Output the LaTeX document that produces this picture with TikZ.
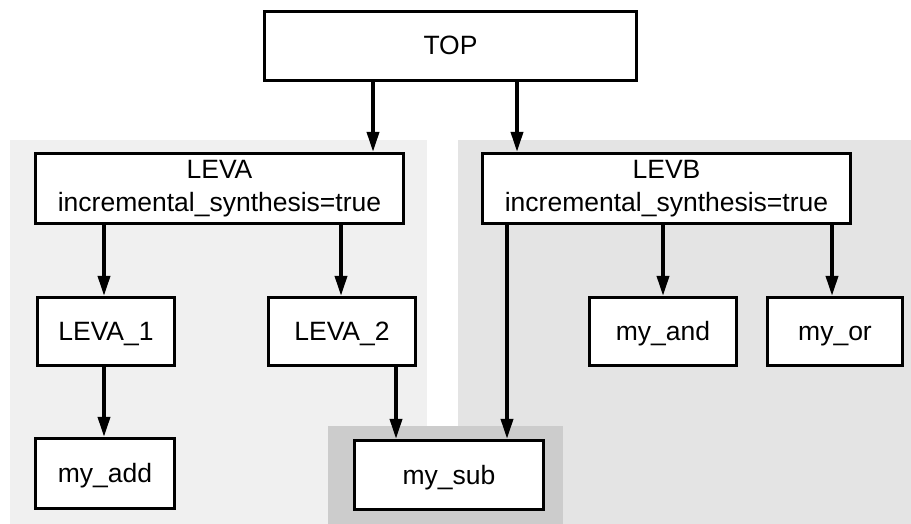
\documentclass[tikz,border=0pt]{standalone}
\usepackage{fontspec}
\setmainfont{Liberation Sans}
\usetikzlibrary{arrows.meta}
\definecolor{grpA}{HTML}{F0F0F0}
\definecolor{grpB}{HTML}{E4E4E4}
\definecolor{grpSub}{HTML}{CCCCCC}
\begin{document}
\begin{tikzpicture}[x=1pt,y=-1pt,
  box/.style={draw=black, line width=3.2pt, fill=white, inner sep=0pt,
    align=center, font=\fontsize{26.5}{33}\selectfont},
  onebox/.style={box, text height=18.5pt, text depth=0.5pt},
  link/.style={line width=3.6pt, -{Triangle[length=20pt,width=12pt]}}]
\useasboundingbox (0,0) rectangle (911,524);

% hierarchy groups
\fill[grpA] (10,140) rectangle (427,524);
\fill[grpB] (458,140) rectangle (911,524);
\fill[grpSub] (328,426) rectangle (563,524);

% blocks
\node[onebox, minimum width=372pt, minimum height=69pt] (top) at (450.5,46) {TOP};
\node[box, minimum width=368pt, minimum height=70pt] (leva) at (219.5,188.5)
  {LEVA\\incremental\_synthesis=true};
\node[box, minimum width=368pt, minimum height=70pt] (levb) at (666.5,188.5)
  {LEVB\\incremental\_synthesis=true};
\node[onebox, minimum width=137pt, minimum height=68pt] (leva1) at (106,331.5) {LEVA\_1};
\node[onebox, minimum width=147pt, minimum height=68pt] (leva2) at (342,331.5) {LEVA\_2};
\node[onebox, minimum width=147pt, minimum height=68pt] (myand) at (663,331.5) {my\_and};
\node[onebox, minimum width=135pt, minimum height=68pt] (myor) at (835,331.5) {my\_or};
\node[onebox, minimum width=139pt, minimum height=70pt] (myadd) at (105,473.5) {my\_add};
\node[onebox, minimum width=189pt, minimum height=69pt] (mysub) at (449,475) {my\_sub};

% connector columns
\coordinate (cA) at (373,0);
\coordinate (cB) at (517,0);
\coordinate (cA1) at (104,0);
\coordinate (cA2) at (341,0);
\coordinate (cS1) at (396,0);
\coordinate (cS2) at (507,0);
\coordinate (cAnd) at (663,0);
\coordinate (cOr) at (832,0);

% connectors
\draw[link] (top.south -| cA) -- (leva.north -| cA);
\draw[link] (top.south -| cB) -- (levb.north -| cB);
\draw[link] (leva.south -| cA1) -- (leva1.north -| cA1);
\draw[link] (leva.south -| cA2) -- (leva2.north -| cA2);
\draw[link] (leva1.south -| cA1) -- (myadd.north -| cA1);
\draw[link] (leva2.south -| cS1) -- (mysub.north -| cS1);
\draw[link] (levb.south -| cS2) -- (mysub.north -| cS2);
\draw[link] (levb.south -| cAnd) -- (myand.north -| cAnd);
\draw[link] (levb.south -| cOr) -- (myor.north -| cOr);
\end{tikzpicture}
\end{document}
